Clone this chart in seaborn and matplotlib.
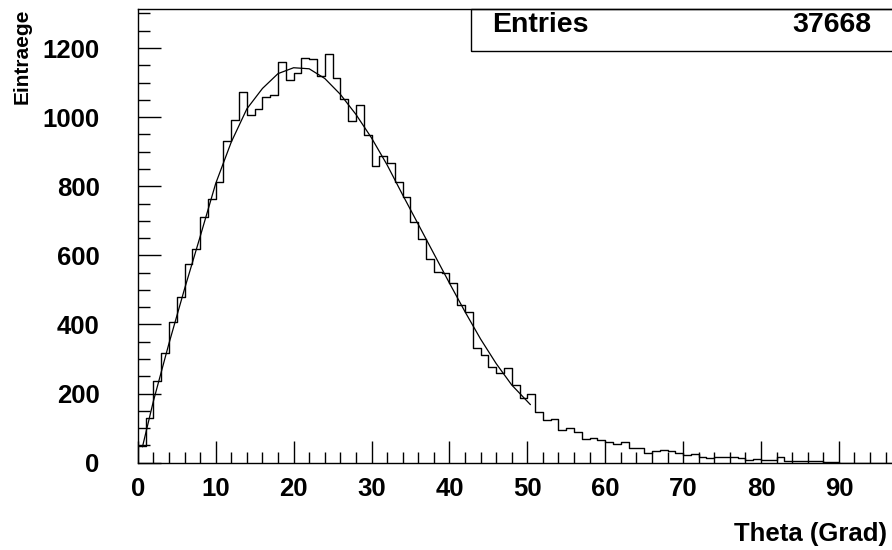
import numpy as np
import pandas as pd
import matplotlib
matplotlib.use("Agg")
import matplotlib.pyplot as plt
import seaborn as sns
from matplotlib.ticker import MultipleLocator
from matplotlib.patches import Rectangle

# ---------------- data ----------------
bin_edges = list(range(0, 101))
counts = [48, 129, 236, 317, 408, 480, 574, 617, 712, 762,
          813, 931, 992, 1074, 1006, 1023, 1058, 1063, 1159, 1108,
          1129, 1172, 1168, 1119, 1182, 1114, 1052, 989, 1035, 948,
          858, 889, 866, 813, 770, 697, 647, 589, 551, 549,
          521, 456, 437, 333, 311, 276, 259, 275, 226, 188,
          199, 148, 124, 126, 95, 101, 90, 70, 72, 66,
          59, 54, 61, 42, 43, 29, 34, 38, 33, 27,
          22, 24, 16, 14, 16, 16, 16, 14, 7, 10,
          7, 9, 16, 4, 4, 4, 4, 4, 1, 2,
          0, 0, 0, 0, 0, 0, 0, 0, 0, 0]
fit_x = [0.6, 2, 4, 6, 8, 10, 12, 14, 16, 18, 20, 22, 24, 26, 28,
         30, 32, 34, 36, 38, 40, 42, 44, 46, 48, 50.4]
fit_y = [46, 178, 345, 503, 654, 808, 928, 1024, 1083, 1126, 1143, 1140,
         1112, 1066, 1008, 940, 862, 775, 690, 605, 520, 437, 358, 287, 225, 168]
x_ticks = [0, 10, 20, 30, 40, 50, 60, 70, 80, 90]
y_ticks = [0, 200, 400, 600, 800, 1000, 1200]
entries = 37668
x_title = "Theta (Grad)"
y_title = "Eintraege"

# ---------------- style ----------------
sns.set_style("ticks")
plt.rcParams["font.family"] = ["Liberation Sans", "DejaVu Sans"]
plt.rcParams["font.weight"] = "bold"
plt.rcParams["text.color"] = "black"
plt.rcParams["axes.labelcolor"] = "black"
plt.rcParams["xtick.color"] = "black"
plt.rcParams["ytick.color"] = "black"
plt.rcParams["xtick.labelcolor"] = "black"
plt.rcParams["ytick.labelcolor"] = "black"

W, H = 892, 550
fig = plt.figure(figsize=(W / 100, H / 100), dpi=100)
fig.patch.set_facecolor("white")
ax_l, ax_r, ax_top, ax_bot = 137.8, 916.8, 9.0, 462.7
ax = fig.add_axes([ax_l / W, (H - ax_bot) / H, (ax_r - ax_l) / W, (ax_bot - ax_top) / H])
ax.set_facecolor("white")

centers = np.array(bin_edges[:-1]) + 0.5
df = pd.DataFrame({"theta": centers, "n": counts})
sns.histplot(data=df, x="theta", weights="n", bins=bin_edges, element="step",
             fill=False, color="black", linewidth=1.0, ax=ax)
sns.lineplot(x=fit_x, y=fit_y, color="black", linewidth=0.9, ax=ax)

ax.set_xlim(0, 100)
ax.set_ylim(0, 1313)
ax.set_xlabel("")
ax.set_ylabel("")

ax.set_xticks(x_ticks)
ax.set_xticklabels([str(v) for v in x_ticks])
ax.set_yticks(y_ticks)
ax.set_yticklabels([str(v) for v in y_ticks])
ax.xaxis.set_minor_locator(MultipleLocator(2))
ax.yaxis.set_minor_locator(MultipleLocator(50))

ax.tick_params(axis="x", which="major", direction="in", length=15.8, width=1.0,
               pad=10, labelsize=18.5, color="black", labelcolor="black")
ax.tick_params(axis="x", which="minor", direction="in", length=8.0, width=1.0, color="black")
ax.tick_params(axis="y", which="major", direction="in", length=16.6, width=1.0,
               pad=27.4, labelsize=18.5, color="black", labelcolor="black")
ax.tick_params(axis="y", which="minor", direction="in", length=8.4, width=1.0, color="black")
for lab in ax.get_xticklabels() + ax.get_yticklabels():
    lab.set_fontweight("bold")
    lab.set_color("black")

for side in ["left", "bottom", "top"]:
    ax.spines[side].set_visible(True)
    ax.spines[side].set_linewidth(1.0)
    ax.spines[side].set_color("black")
ax.spines["right"].set_visible(False)

# stats box
bx0 = (471 - ax_l) / (ax_r - ax_l)
by0 = (ax_bot - 50.7) / (ax_bot - ax_top)
ax.add_patch(Rectangle((bx0, by0), 0.7, 1 - by0, transform=ax.transAxes,
                       fill=False, edgecolor="black", linewidth=1.0, clip_on=False))
ty = (ax_bot - 32.3) / (ax_bot - ax_top)
ax.text((491.7 - ax_l) / (ax_r - ax_l), ty, "Entries", transform=ax.transAxes,
        ha="left", va="baseline", fontsize=20.5, fontweight="bold", color="black")
ax.text((871.7 - ax_l) / (ax_r - ax_l), ty, f"{entries}", transform=ax.transAxes,
        ha="right", va="baseline", fontsize=20.5, fontweight="bold", color="black")

# axis titles
fig.text(887 / W, 1 - 541 / H, x_title, ha="right", va="baseline",
         fontsize=18.5, fontweight="bold", color="black")
fig.text(22 / W, 1 - 9 / H, y_title, rotation=90, ha="center", va="top",
         fontsize=15, fontweight="bold", color="black")

fig.savefig("out.png", dpi=100, facecolor="white")
